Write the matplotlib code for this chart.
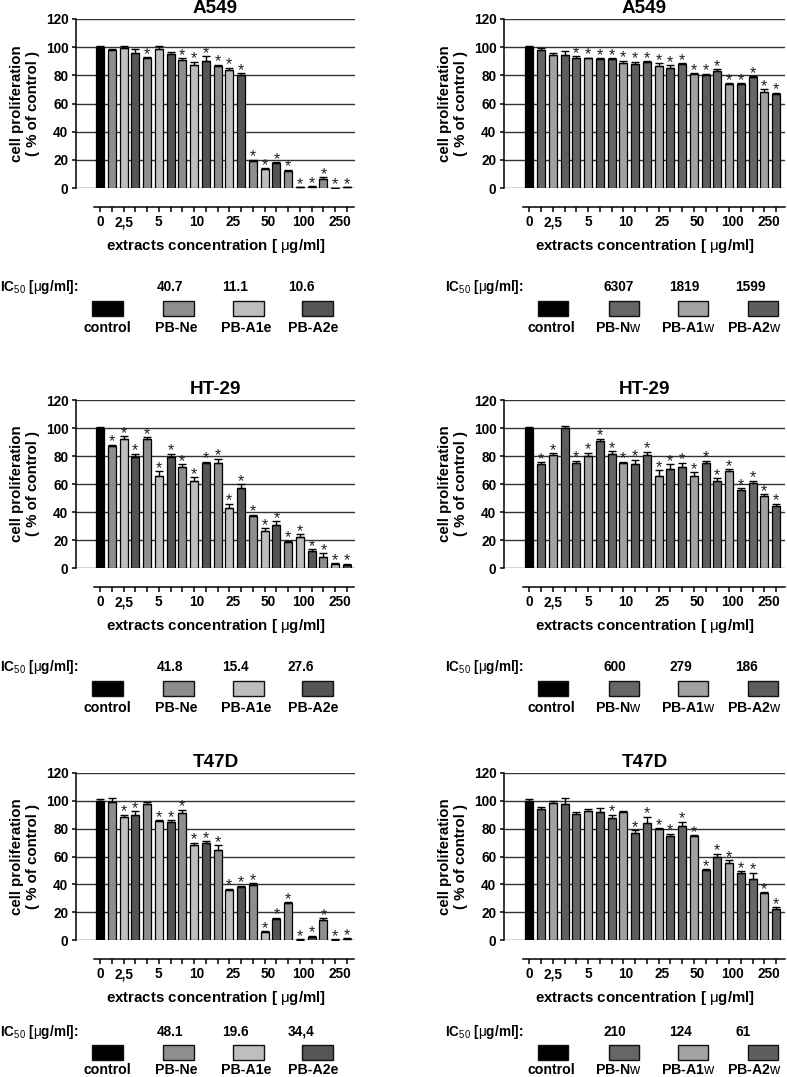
import matplotlib
matplotlib.use('Agg')
import matplotlib.pyplot as plt
from matplotlib.patches import Rectangle
import numpy as np

plt.rcParams['font.family'] = ['Liberation Sans', 'DejaVu Sans']
plt.rcParams['mathtext.fontset'] = 'custom'
plt.rcParams['mathtext.rm'] = 'Liberation Sans'
plt.rcParams['mathtext.it'] = 'Liberation Sans:italic'
plt.rcParams['mathtext.bf'] = 'Liberation Sans:bold'

# ---------------- data ----------------
conc_labels = ['0', '2,5', '5', '10', '25', '50', '100', '250']
conc_label_pos = [0, 2, 5, 8.2, 11.3, 14.3, 17.3, 20.4]

a549_e_vals = [100, 98, 99.5, 96, 92, 98.5, 95, 91, 87.5, 90, 86.5, 84, 80,
               19.5, 13.8, 17.8, 12, 0.5, 1, 6.5, 0.2, 0.5]
a549_e_err = [0.5, 1, 1, 2.5, 1, 2, 1.5, 1, 2, 3.5, 1, 1.5, 1.5,
              0.7, 0.3, 0.5, 1, 0.2, 0.2, 1, 0, 0.2]
a549_e_sig = [0, 0, 0, 0, 1, 0, 0, 1, 1, 1, 1, 1, 1, 1, 1, 1, 1, 1, 1, 1, 1, 1]

a549_w_vals = [100, 98, 94.5, 94.5, 92, 92, 91.5, 91.5, 89, 88, 89.5, 86.5, 85.5,
               88, 81, 80.5, 83, 74, 74, 78.5, 68.5, 66.5]
a549_w_err = [0.5, 1.5, 1.5, 2.5, 1.5, 0.5, 0.5, 0.5, 1.5, 1.5, 0.5, 2, 1.5,
              0.5, 0.5, 0.5, 1.5, 0.5, 0.5, 1, 1.5, 1]
a549_w_sig = [0, 0, 0, 0, 1, 1, 1, 1, 1, 1, 1, 1, 1, 1, 1, 1, 1, 1, 1, 1, 1, 1]

ht29_e_vals = [100, 87, 92, 79.5, 92.5, 66, 79.5, 72.5, 62, 75, 75, 43, 57,
               37, 26.5, 30.5, 18.5, 22, 12.5, 8, 3, 2.5]
ht29_e_err = [0.5, 1, 2, 2, 1, 3, 2, 1.5, 3, 1, 3, 3, 3, 1, 2, 3, 1, 2, 1, 2.5, 0.5, 0.5]
ht29_e_sig = [0, 1, 1, 1, 1, 1, 1, 1, 1, 1, 1, 1, 1, 1, 1, 1, 1, 1, 1, 1, 1, 1]

ht29_w_vals = [100, 74, 81, 100, 75, 80, 91, 81.5, 75, 74.5, 81, 66, 71, 72.3,
               65.5, 74.7, 62, 69, 55.6, 61, 51.3, 44]
ht29_w_err = [0.5, 1.5, 1, 1.5, 1.5, 2.5, 1.5, 2, 1, 3, 2, 4, 3, 3, 3, 2, 2,
              1.5, 1.5, 1.5, 1.5, 2]
ht29_w_sig = [0, 1, 1, 0, 1, 1, 1, 1, 1, 1, 1, 1, 1, 1, 1, 1, 1, 1, 1, 1, 1, 1]

t47d_e_vals = [100, 99.5, 88.5, 89.5, 97.5, 85.5, 85, 91.5, 68.5, 70, 65,
               36, 38, 39.5, 6, 15, 26.5, 0.3, 2, 14.5, 0.3, 0.8]
t47d_e_err = [1, 2.5, 1.5, 3, 1.5, 0.5, 1, 2, 1.5, 1, 3, 1, 1, 1.5, 0.5, 1,
              0.5, 0.2, 1, 1, 0.2, 0.3]
t47d_e_sig = [0, 0, 1, 1, 0, 1, 1, 1, 1, 1, 1, 1, 1, 1, 1, 1, 1, 1, 1, 1, 1, 1]

t47d_w_vals = [100, 94, 98.5, 98, 90.5, 93, 92, 88, 92, 77, 84, 79.5, 75, 82,
               74.5, 50.5, 60, 55.5, 48, 44, 33.5, 22]
t47d_w_err = [1, 1.5, 1.5, 4, 1.5, 1, 2.5, 2, 1, 2, 4.5, 1, 1.5, 3, 1, 0.5,
              2, 2, 1.5, 4.5, 1, 1.5]
t47d_w_sig = [0, 0, 0, 0, 0, 0, 0, 1, 0, 1, 1, 1, 1, 1, 1, 1, 1, 1, 1, 1, 1, 1]

cell_lines = ['A549', 'HT-29', 'T47D']
ic50_e = [['40.7', '11.1', '10.6'], ['41.8', '15.4', '27.6'], ['48.1', '19.6', '34,4']]
ic50_w = [['6307', '1819', '1599'], ['600', '279', '186'], ['210', '124', '61']]
names_e = ['control', 'PB-Ne', 'PB-A1e', 'PB-A2e']
names_w = ['control', r'PB-N$\mathrm{w}$', r'PB-A1$\mathrm{w}$', r'PB-A2$\mathrm{w}$']
colors_e = ['#000000', '#8e8e8e', '#bebebe', '#555555']
colors_w = ['#000000', '#666666', '#a2a2a2', '#5e5e5e']

panels_e = [(a549_e_vals, a549_e_err, a549_e_sig),
            (ht29_e_vals, ht29_e_err, ht29_e_sig),
            (t47d_e_vals, t47d_e_err, t47d_e_sig)]
panels_w = [(a549_w_vals, a549_w_err, a549_w_sig),
            (ht29_w_vals, ht29_w_err, ht29_w_sig),
            (t47d_w_vals, t47d_w_err, t47d_w_sig)]

# ---------------- layout ----------------
W, H = 787, 1077
fig = plt.figure(figsize=(W / 100, H / 100), dpi=100)


def fx(px):
    return px / W


def fy(py):
    return 1 - py / H


row_top = [19, 400, 773]
row_bot = [188, 568, 940]
col_left = [76, 504]
col_right = [355, 785]
xlims = [(-2.04, 21.68), (-2.15, 21.76)]
spine_bounds = [(-0.5, 21.6), (-0.55, 21.76)]

ic_y = [287, 667, 1032]
box_top = [301, 681, 1045]
lab_y = [328, 708, 1070]


def draw_panel(ax, vals, errs, sig, colors, title, col):
    n = len(vals)
    x = np.arange(n)
    cols = [colors[0]] + [colors[1 + (i % 3)] for i in range(n - 1)]
    ax.bar(x, vals, width=0.68, color=cols, edgecolor='black', linewidth=0.9, zorder=3)
    ax.errorbar(x, vals, yerr=[np.zeros(n), errs], fmt='none', ecolor='black',
                elinewidth=1.0, capsize=2.6, capthick=1.0, zorder=4)
    for xi, v, e, s in zip(x, vals, errs, sig):
        if s:
            ax.text(xi, v + e + 2.0, '*', ha='center', va='center', fontsize=11.5,
                    color='#222222', zorder=5)
    ax.set_ylim(0, 120)
    ax.set_xlim(*xlims[col])
    ax.set_yticks(range(0, 121, 20))
    ax.yaxis.grid(True, color='#333333', linewidth=1.0)
    ax.set_axisbelow(True)
    for s in ['top', 'right']:
        ax.spines[s].set_visible(False)
    ax.spines['left'].set_linewidth(1.1)
    ax.spines['bottom'].set_linewidth(1.1)
    ax.spines['bottom'].set_position(('outward', 13.7))
    ax.spines['bottom'].set_bounds(*spine_bounds[col])
    ax.xaxis.remove_overlapping_locs = False
    ax.set_xticks(x)
    ax.set_xticklabels([])
    ax.set_xticks(conc_label_pos, minor=True)
    ax.set_xticklabels(conc_labels, minor=True, fontweight='bold', fontsize=9.8)
    ax.tick_params(axis='x', which='major', direction='out', length=3.6, width=1.1)
    ax.tick_params(axis='x', which='minor', length=0, pad=6.0)
    ax.tick_params(axis='y', direction='out', length=3.2, width=1.1, pad=2.3,
                   labelsize=9.8)
    for lab in ax.get_yticklabels():
        lab.set_fontweight('bold')
    ax.set_title(title, fontweight='bold', fontsize=13.6, pad=4.3)
    ax.set_ylabel('cell proliferation\n( % of control )', fontweight='bold',
                  fontsize=10.8, linespacing=1.2)
    ax.yaxis.set_label_coords(-36 / (col_right[col] - col_left[col]), 0.5)
    ax.set_xlabel(r'extracts concentration [ $\mathrm{\mu}$g/ml]', fontweight='bold',
                  fontsize=10.8, labelpad=5.5)


legend_x = [
    dict(ic=0, vals=[157, 222, 288], boxes=[92, 163, 233, 302], bw=31,
         labs=[107, 176, 246, 313]),
    dict(ic=445, vals=[603, 669, 735], boxes=[538, 609, 678, 748], bw=30,
         labs=[551, 618, 688, 754]),
]

for r in range(3):
    for c in range(2):
        ax = fig.add_axes([fx(col_left[c]), fy(row_bot[r]),
                           fx(col_right[c] - col_left[c]),
                           (row_bot[r] - row_top[r]) / H])
        vals, errs, sig = (panels_e if c == 0 else panels_w)[r]
        colors = colors_e if c == 0 else colors_w
        draw_panel(ax, vals, errs, sig, colors, cell_lines[r], c)

        # legend block
        L = legend_x[c]
        ics = (ic50_e if c == 0 else ic50_w)[r]
        names = names_e if c == 0 else names_w
        fig.text(fx(L['ic']), fy(ic_y[r]), r'IC$_{\mathrm{50}}$ [$\mathrm{\mu}$g/ml]:',
                 fontweight='bold', fontsize=9.8, ha='left', va='center')
        for vx, v in zip(L['vals'], ics):
            fig.text(fx(vx), fy(ic_y[r]), v, fontweight='bold', fontsize=9.8,
                     ha='left', va='center')
        for bx, col in zip(L['boxes'], colors):
            rect = Rectangle((fx(bx), fy(box_top[r] + 15)), fx(L['bw']), 15 / H,
                             transform=fig.transFigure, facecolor=col,
                             edgecolor='#111111', linewidth=1.0)
            fig.patches.append(rect)
        for lx, nm in zip(L['labs'], names):
            fig.text(fx(lx), fy(lab_y[r]), nm, fontweight='bold', fontsize=10.2,
                     ha='center', va='center')

fig.savefig('out.png', dpi=100)
